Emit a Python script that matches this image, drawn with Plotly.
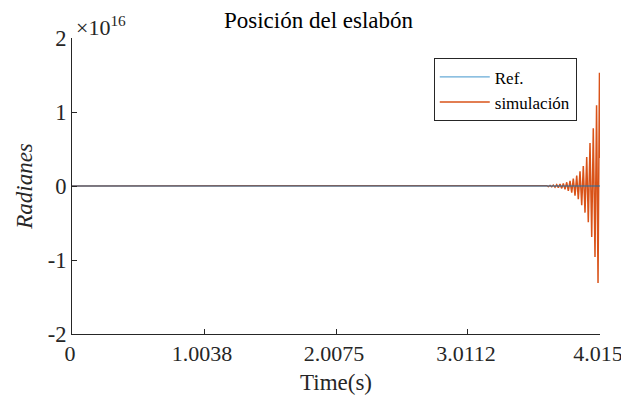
import plotly.graph_objects as go

# ---- data (values in units of 1e16 rad) ----
ref_t = [0.0, 4.015]
ref_y = [0.0, 0.0]

sim_t = [0.0, 3.540, 3.559, 3.572, 3.584, 3.597, 3.610, 3.622, 3.635, 3.648,
         3.660, 3.673, 3.686, 3.698, 3.711, 3.724, 3.736, 3.749, 3.762, 3.774,
         3.787, 3.800, 3.812, 3.825, 3.838, 3.850, 3.863, 3.876, 3.888, 3.901,
         3.914, 3.926, 3.939, 3.952, 3.964, 3.977, 3.989, 4.000, 4.011, 4.015]
sim_y = [0.0, 0.0, 0.002, -0.003, 0.003, -0.0045, 0.005, -0.007, 0.008, -0.011,
         0.012, -0.016, 0.018, -0.022, 0.025, -0.032, 0.035, -0.045, 0.05, -0.065,
         0.07, -0.09, 0.10, -0.13, 0.14, -0.18, 0.20, -0.26, 0.27, -0.36,
         0.39, -0.49, 0.58, -0.69, 0.78, -0.96, 1.09, -1.31, 1.53, 0.38]

scale = 1e16
x_ticks = [0, 1.0038, 2.0075, 3.0112, 4.015]
x_ticktext = ["0", "1.0038", "2.0075", "3.0112", "4.015"]
y_ticks = [-2, -1, 0, 1, 2]
y_ticktext = ["-2", "-1", "0", "1", "2"]

FONT = "Liberation Serif"
AX = "#262626"

fig = go.Figure()
fig.add_trace(go.Scatter(x=sim_t, y=[v * scale for v in sim_y], mode="lines",
                         name="simulación", line=dict(color="#D95319", width=1.5)))
fig.add_trace(go.Scatter(x=ref_t, y=[v * scale for v in ref_y], mode="lines",
                         name="Ref.", line=dict(color="rgba(0,114,189,0.6)", width=1.3)))

fig.update_layout(
    width=621, height=392,
    margin=dict(l=64, r=29, t=30, b=66, autoexpand=False),
    paper_bgcolor="white", plot_bgcolor="white",
    font=dict(family=FONT, size=22.5, color=AX),
    title=dict(text="Posición del eslabón", x=0.5, xanchor="center",
               y=1 - 12 / 392, yanchor="middle", font=dict(family=FONT, size=23, color="#000")),
    showlegend=True,
    legend=dict(x=0.956, y=0.931, xanchor="right", yanchor="top",
                bgcolor="white", bordercolor=AX, borderwidth=1,
                font=dict(family=FONT, size=17, color="#000"),
                traceorder="reversed", itemwidth=50,
                tracegroupgap=0),
    xaxis=dict(range=[0, 4.015], tickvals=x_ticks, ticktext=x_ticktext,
               showgrid=False, zeroline=False, showline=True, linecolor=AX, linewidth=1,
               ticks="inside", ticklen=5, tickcolor=AX, mirror=False, automargin=False,
               ticklabelshift=-2,
               title=dict(text="Time(s)", font=dict(family=FONT, size=23, color=AX), standoff=8),
               tickfont=dict(family=FONT, size=22, color=AX)),
    yaxis=dict(range=[-2 * scale, 2 * scale], tickvals=[v * scale for v in y_ticks],
               ticktext=y_ticktext,
               showgrid=False, zeroline=False, showline=True, linecolor=AX, linewidth=1,
               ticks="inside", ticklen=5, tickcolor=AX, mirror=False, automargin=False,
               title=dict(text="<i>Radianes</i>", font=dict(family=FONT, size=23, color=AX), standoff=8),
               tickfont=dict(family=FONT, size=22.5, color=AX)),
)

fig.add_annotation(x=0, y=1.0, xref="paper", yref="paper", xanchor="left", yanchor="bottom",
                   text="×10<sup>16</sup>", showarrow=False, xshift=2, yshift=-4,
                   font=dict(family=FONT, size=22, color=AX))

fig.write_html("out.html")
